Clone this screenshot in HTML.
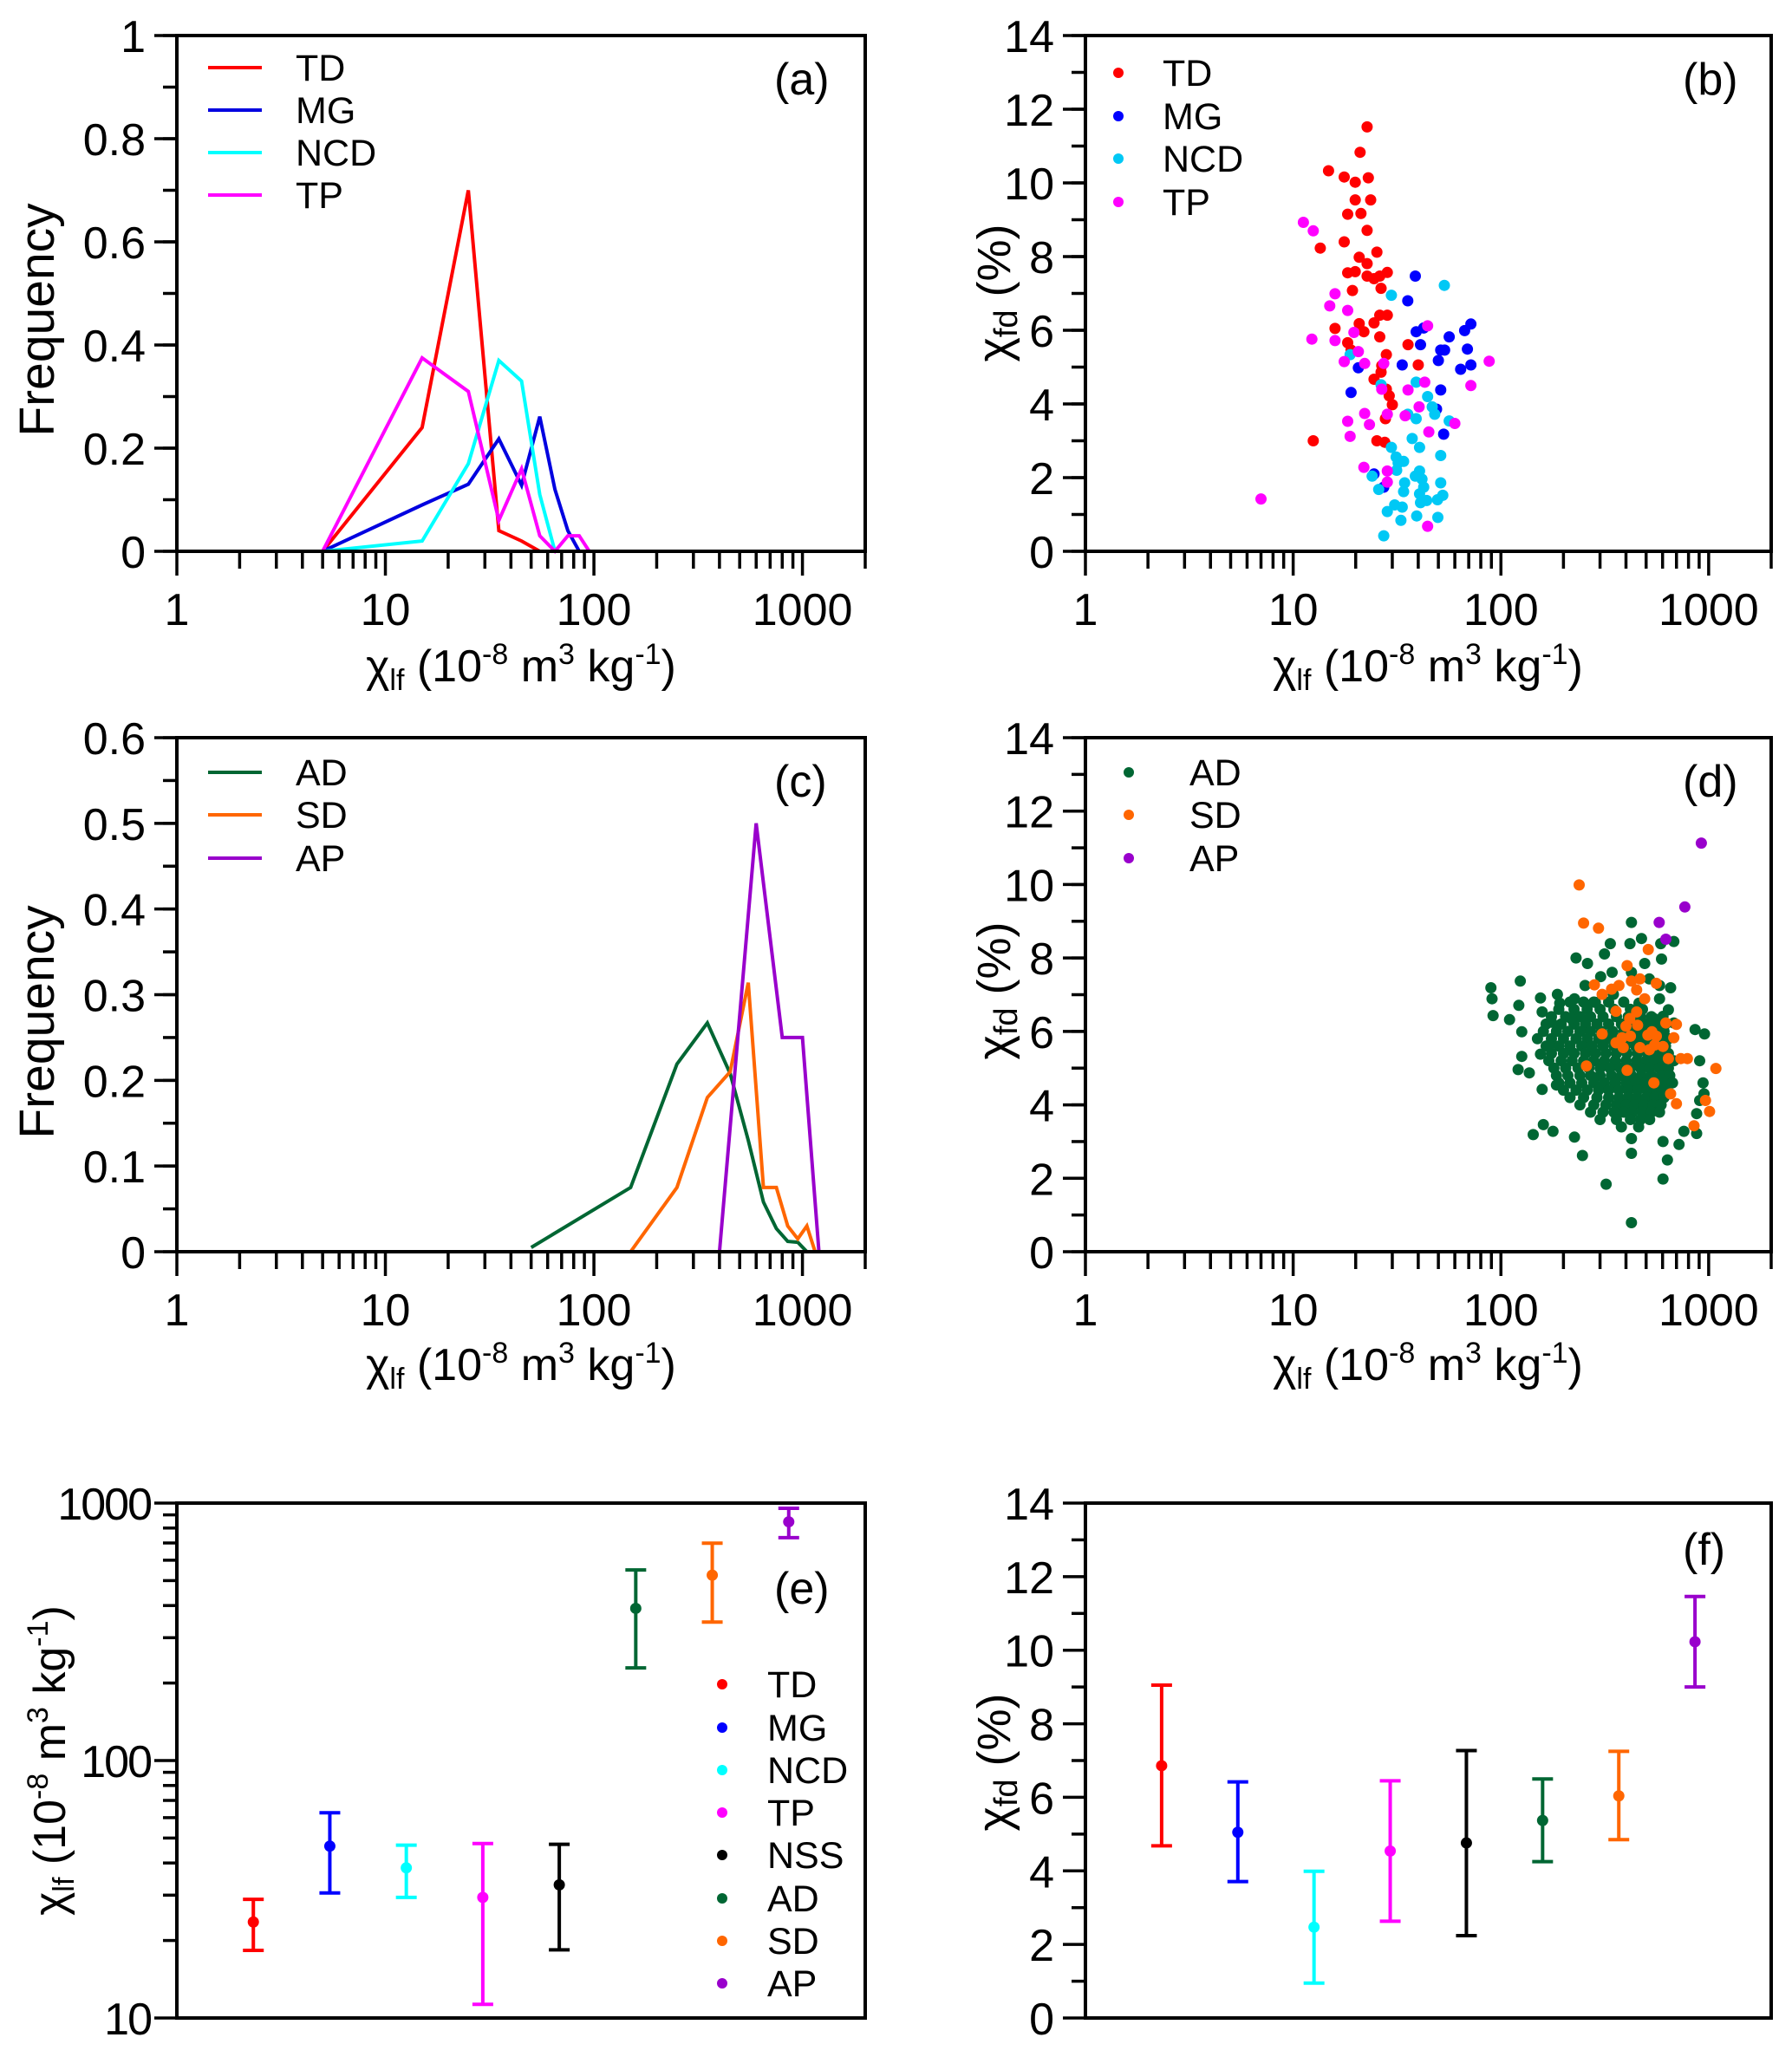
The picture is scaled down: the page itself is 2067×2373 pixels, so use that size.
<!DOCTYPE html>
<html><head><meta charset="utf-8">
<style>
html,body{margin:0;padding:0;background:#fff;}
svg{display:block;font-family:"Liberation Sans",Arial,sans-serif;}
</style></head>
<body>
<svg id="fig" width="2067" height="2373" viewBox="0 0 2067 2373" xmlns="http://www.w3.org/2000/svg">
<rect width="2067" height="2373" fill="#fff"/>
<g id="static" fill="#000">
  <text x="601" y="786" text-anchor="middle" font-size="52">χ<tspan font-size="34" dy="10">lf</tspan><tspan dy="-10"> (10</tspan><tspan font-size="34" dy="-20">-8</tspan><tspan dy="20"> m</tspan><tspan font-size="34" dy="-20">3</tspan><tspan dy="20"> kg</tspan><tspan font-size="34" dy="-20">-1</tspan><tspan dy="20">)</tspan></text>
  <text x="1647" y="786" text-anchor="middle" font-size="52">χ<tspan font-size="34" dy="10">lf</tspan><tspan dy="-10"> (10</tspan><tspan font-size="34" dy="-20">-8</tspan><tspan dy="20"> m</tspan><tspan font-size="34" dy="-20">3</tspan><tspan dy="20"> kg</tspan><tspan font-size="34" dy="-20">-1</tspan><tspan dy="20">)</tspan></text>
  <text x="601" y="1592" text-anchor="middle" font-size="52">χ<tspan font-size="34" dy="10">lf</tspan><tspan dy="-10"> (10</tspan><tspan font-size="34" dy="-20">-8</tspan><tspan dy="20"> m</tspan><tspan font-size="34" dy="-20">3</tspan><tspan dy="20"> kg</tspan><tspan font-size="34" dy="-20">-1</tspan><tspan dy="20">)</tspan></text>
  <text x="1647" y="1592" text-anchor="middle" font-size="52">χ<tspan font-size="34" dy="10">lf</tspan><tspan dy="-10"> (10</tspan><tspan font-size="34" dy="-20">-8</tspan><tspan dy="20"> m</tspan><tspan font-size="34" dy="-20">3</tspan><tspan dy="20"> kg</tspan><tspan font-size="34" dy="-20">-1</tspan><tspan dy="20">)</tspan></text>
  <text transform="translate(62,369) rotate(-90)" text-anchor="middle" font-size="57">Frequency</text>
  <text transform="translate(62,1179) rotate(-90)" text-anchor="middle" font-size="57">Frequency</text>
  <text transform="translate(1165,338) rotate(-90)" text-anchor="middle" font-size="54">χ<tspan font-size="38" dy="8">fd</tspan><tspan dy="-8"> (%)</tspan></text>
  <text transform="translate(1165,1143) rotate(-90)" text-anchor="middle" font-size="54">χ<tspan font-size="38" dy="8">fd</tspan><tspan dy="-8"> (%)</tspan></text>
  <text transform="translate(1165,2033) rotate(-90)" text-anchor="middle" font-size="54">χ<tspan font-size="38" dy="8">fd</tspan><tspan dy="-8"> (%)</tspan></text>
  <text transform="translate(75,2031) rotate(-90)" text-anchor="middle" font-size="52">χ<tspan font-size="34" dy="10">lf</tspan><tspan dy="-10"> (10</tspan><tspan font-size="34" dy="-20">-8</tspan><tspan dy="20"> m</tspan><tspan font-size="34" dy="-20">3</tspan><tspan dy="20"> kg</tspan><tspan font-size="34" dy="-20">-1</tspan><tspan dy="20">)</tspan></text>
  <text x="893" y="109" font-size="52">(a)</text>
  <text x="1941" y="109" font-size="52">(b)</text>
  <text x="893" y="919" font-size="52">(c)</text>
  <text x="1941" y="919" font-size="52">(d)</text>
  <text x="893" y="1850" font-size="52">(e)</text>
  <text x="1941" y="1805" font-size="52">(f)</text>
</g>
</svg>
<script>
const groupNames = ['TD','MG','NCD','TP'];
const groupNames2 = ['AD','SD','AP'];
const summaryNames = ['TD','MG','NCD','TP','NSS','AD','SD','AP'];

const tdHistX = [5,15,25,35,45,55];
const tdHistY = [0,0.24,0.70,0.04,0.02,0];
const mgHistX = [5,15,25,35,45,55,65,75,85];
const mgHistY = [0,0.09,0.13,0.218,0.128,0.261,0.12,0.04,0];
const ncdHistX = [5,15,25,35,45,55,65];
const ncdHistY = [0,0.02,0.17,0.37,0.33,0.11,0];
const tpHistX = [5,15,25,35,45,55,65,75,85,95];
const tpHistY = [0,0.375,0.31,0.06,0.16,0.03,0,0.03,0.03,0];

const adHistX = [50,150,250,350,450,550,650,750,850,950,1050];
const adHistY = [0.005,0.075,0.219,0.267,0.208,0.13,0.058,0.027,0.012,0.011,0];
const sdHistX = [150,250,350,450,550,650,750,850,950,1050,1150];
const sdHistY = [0,0.075,0.18,0.21,0.314,0.075,0.075,0.03,0.015,0.03,0];
const apHistX = [400,600,800,1000,1200];
const apHistY = [0,0.5,0.25,0.25,0];

const scatterTD = [[22.7,11.52],[21,10.83],[14.8,10.33],[17.6,10.16],[23,10.14],[19.9,10.02],[19.9,9.54],[23.6,9.54],[18.3,9.15],[21.2,9.17],[22.7,8.71],[13.5,8.23],[17.6,8.4],[25.3,8.12],[20.8,7.98],[22.7,7.81],[18.3,7.56],[19.9,7.59],[22.7,7.47],[24.5,7.4],[26.1,7.47],[28.4,7.57],[26.5,7.14],[19.3,7.08],[28.4,6.41],[26.1,6.41],[24.5,6.2],[20.8,6.18],[21.9,5.96],[15.9,6.05],[26.1,5.82],[18.3,5.66],[19,5.46],[35.7,5.61],[40,5.06],[28.1,5.34],[26.7,5.04],[26.5,4.86],[24.5,4.67],[28.1,4.4],[29,4.22],[30,3.98],[27.8,3.6],[12.5,3.0],[25.3,3.0],[27.6,2.96]];
const scatterMG = [[38.7,7.47],[35.6,6.8],[39.1,5.96],[42.5,6.06],[41,5.61],[56.4,5.82],[66.9,5.99],[71.7,6.17],[51.3,5.46],[53.6,5.46],[69,5.49],[50,5.18],[33.5,5.06],[20.6,4.98],[64,4.94],[71.7,5.06],[51.3,4.38],[19,4.31],[49,3.86],[53,3.18],[24.5,2.1],[27.3,1.74]];
const scatterNCD = [[53.4,7.22],[29.7,6.95],[39.1,4.59],[26.5,4.52],[44.4,4.2],[46.7,3.92],[48,3.72],[56.4,3.54],[35.6,3.72],[39.1,3.6],[37.4,3.06],[40.6,2.82],[51.3,2.6],[29.7,2.82],[31.3,2.56],[32,2.4],[34,2.44],[31.5,2.2],[40.6,2.18],[38.7,2.04],[41.7,1.96],[42.5,1.74],[51.3,1.86],[34.4,1.86],[34,1.62],[40.6,1.56],[43.9,1.38],[41,1.32],[49.5,1.4],[52.5,1.52],[30.8,1.26],[33.5,1.2],[28.4,1.08],[39.3,0.96],[49.7,0.92],[33,0.84],[27.3,0.42],[18.8,5.34],[25.8,1.68],[24,2.04]];
const scatterTP = [[7,1.42],[11.2,8.93],[12.5,8.7],[15.9,6.99],[15,6.66],[18.3,6.54],[12.3,5.76],[15.9,5.72],[19.6,5.94],[20.6,5.42],[17.6,5.15],[22.1,5.1],[27.3,5.1],[26.7,4.4],[35.7,4.38],[44.4,6.12],[43,4.59],[87.8,5.16],[71.7,4.5],[40.4,3.92],[22.1,3.74],[28.4,3.72],[34.6,3.68],[18.3,3.53],[23.3,3.44],[60,3.47],[45,3.24],[18.8,3.12],[21.9,2.28],[28.4,2.18],[28.4,1.88],[44.4,0.68]];

const scatterADOuter = [[89.5,7.19],[90.6,6.89],[91.7,6.43],[110,6.32],[124,7.37],[122,6.71],[126,5.99],[126,5.32],[121,4.96],[137,4.87],[143,3.19],[160,3.46],[178,3.28],[155,6.91],[158,6.53],[170,5.62],[155,5.38],[158,4.42],[185,4.54],[226,3.12],[247,2.62],[321,1.84],[425,0.79],[425,2.68],[425,3.08],[603,1.98],[633,2.5],[720,2.92],[603,3.0],[760,3.28],[875,3.22],[875,3.76],[905,4.12],[950,4.3],[940,4.6],[905,5.2],[955,5.93],[860,6.05],[680,6.23],[640,6.59],[656,7.19],[593,7.97],[680,8.45],[588,8.39],[425,8.97],[475,8.53],[418,8.39],[336,8.39],[315,8.11],[492,7.85],[230,8.0],[261,7.85],[302,7.49],[343,7.61],[425,7.61],[348,7.01],[285,6.79],[226,6.89],[187,7.01],[192,6.77],[218,6.35],[254,7.25],[518,7.43],[580,7.25],[580,6.89],[462,6.77],[545,6.35],[603,6.41],[175,6.25]];
const adCoreY = [6.8,6.6,6.4,6.2,6.0,5.8,5.6,5.4,5.2,5.0,4.8,4.6,4.4,4.2,4.0,3.8,3.6,3.4];
const adCoreX = [
 [215,250,280,330,390],
 [190,225,260,300,350,420,480],
 [175,205,240,270,310,360,410,470,530],
 [165,195,225,255,290,330,380,440,500,560,620],
 [160,185,210,240,270,305,345,390,440,490,550,610],
 [150,175,200,230,260,295,330,370,420,470,520,580,640],
 [165,190,215,245,275,310,350,395,445,500,560,620],
 [175,200,225,255,285,320,360,405,455,510,570,640],
 [170,195,220,250,280,315,355,400,450,500,555,615,680],
 [180,205,235,265,300,335,375,420,470,520,580,640],
 [185,210,240,270,300,340,380,425,475,530,590,650],
 [190,215,245,280,315,355,400,445,495,550,610,670],
 [200,230,260,295,330,370,410,455,505,560,620],
 [215,250,290,330,370,410,450,500,550,610],
 [240,280,320,360,400,440,490,540,590],
 [270,310,350,390,430,480,530,580],
 [300,360,420,470,520],
 [380,460]
];
const scatterSD = [[238,9.99],[250,8.95],[295,8.81],[512,8.23],[405,7.79],[282,7.27],[307,7.01],[341,7.15],[370,7.25],[425,7.37],[467,7.43],[560,7.31],[450,7.13],[492,6.89],[358,6.55],[450,6.53],[417,6.35],[400,6.14],[455,6.17],[307,5.93],[383,5.83],[420,5.87],[510,5.9],[533,5.99],[560,5.87],[358,5.69],[388,5.56],[467,5.56],[518,5.5],[550,5.63],[603,5.59],[640,5.26],[735,5.26],[790,5.26],[680,5.83],[622,6.23],[700,6.19],[258,5.06],[405,4.94],[545,4.6],[656,4.3],[700,4.03],[965,4.12],[1010,3.82],[1083,4.99],[850,3.43]];
const scatterAP = [[922,11.13],[768,9.39],[578,8.97],[622,8.51]];

const lfMean = [23.6,46.5,38.3,29.4,32.9,390,525,846];
const lfHigh = [28.9,62.7,46.9,47.6,47.3,550,699,955];
const lfLow  = [18.3,30.6,29.4,11.3,18.4,229,345,734];
const fdMean = [6.86,5.05,2.47,4.54,4.76,5.37,6.04,10.23];
const fdHigh = [9.05,6.42,3.99,6.45,7.27,6.5,7.25,11.46];
const fdLow  = [4.68,3.71,0.95,2.63,2.24,4.25,4.85,9.0];

const logXTicks = [1,10,100,1000];
const freqATicks = [0,0.2,0.4,0.6,0.8,1];
const freqCTicks = [0,0.1,0.2,0.3,0.4,0.5,0.6];
const fdTicks = [0,2,4,6,8,10,12,14];
const lfYTicks = [10,100,1000];

const NS = 'http://www.w3.org/2000/svg';
const svg = document.getElementById('fig');
function mk(tag, attrs, parent){
  const el = document.createElementNS(NS, tag);
  for (const k in attrs) el.setAttribute(k, attrs[k]);
  (parent||svg).appendChild(el);
  return el;
}
const P = {
  a:{x0:204,x1:998,y0:41,y1:636},
  b:{x0:1252,x1:2043,y0:41,y1:636},
  c:{x0:204,x1:998,y0:851,y1:1444},
  d:{x0:1252,x1:2043,y0:851,y1:1444},
  e:{x0:204,x1:998,y0:1734,y1:2328},
  f:{x0:1252,x1:2043,y0:1734,y1:2328}
};
const LOGMAX = Math.log10(2000);
function xLog(p,v){ return p.x0 + Math.log10(v)/LOGMAX*(p.x1-p.x0); }
function yLin(p,v,max){ return p.y1 - v/max*(p.y1-p.y0); }
function yLog(p,v){ return p.y1 - (Math.log10(v)-1)/2*(p.y1-p.y0); }
function xCat(p,i){ return p.x0 + (i+1)*(p.x1-p.x0)/9; }

function frame(p, key){
  const r = mk('rect',{x:p.x0,y:p.y0,width:p.x1-p.x0,height:p.y1-p.y0,fill:'none',stroke:'#000','stroke-width':4});
  
  
}
function logXAxis(p, key){
  const g = mk('g',{});
  
  
  for (let e=0; e<4; e++){
    for (let m=1; m<=9; m++){
      const v = m*Math.pow(10,e);
      if (v>2000) break;
      const x = xLog(p,v);
      mk('line',{x1:x,x2:x,y1:p.y1,y2:p.y1+(m===1?28:20),stroke:'#000','stroke-width':3.5},g);
    }
  }
  logXTicks.forEach(v=>{
    const t = mk('text',{x:xLog(p,v),y:p.y1+85,'text-anchor':'middle','font-size':52},g);
    t.textContent = String(v);
    
    
  });
}
function linYAxis(p, key, ticks, max, minorStep){
  const g = mk('g',{});
  
  
  for (let v=0; v<=max+1e-9; v+=minorStep){
    const y = yLin(p,v,max);
    mk('line',{x1:p.x0-16,x2:p.x0,y1:y,y2:y,stroke:'#000','stroke-width':3.5},g);
  }
  ticks.forEach(v=>{
    const y = yLin(p,v,max);
    mk('line',{x1:p.x0-26,x2:p.x0,y1:y,y2:y,stroke:'#000','stroke-width':3.5},g);
    const t = mk('text',{x:p.x0-36,y:y+19,'text-anchor':'end','font-size':52},g);
    t.textContent = String(v);
    
    
  });
}
function logYAxis(p, key){
  const g = mk('g',{});
  
  
  for (let e=1; e<3; e++){
    for (let m=2; m<=9; m++){
      const y = yLog(p, m*Math.pow(10,e));
      mk('line',{x1:p.x0-16,x2:p.x0,y1:y,y2:y,stroke:'#000','stroke-width':3.5},g);
    }
  }
  lfYTicks.forEach(v=>{
    const y = yLog(p,v);
    mk('line',{x1:p.x0-26,x2:p.x0,y1:y,y2:y,stroke:'#000','stroke-width':3.5},g);
    const t = mk('text',{x:p.x0-30,y:y+19,'text-anchor':'end','font-size':52,'letter-spacing':-2},g);
    t.textContent = String(v);
    
    
  });
}
function catYAxis(p,key){
  const g = mk('g',{});
  
  
  for (let v=0; v<=14; v++){
    const y = yLin(p,v,14);
    mk('line',{x1:p.x0-(v%2===0?26:16),x2:p.x0,y1:y,y2:y,stroke:'#000','stroke-width':3.5},g);
  }
  fdTicks.forEach(v=>{
    const y = yLin(p,v,14);
    const t = mk('text',{x:p.x0-36,y:y+19,'text-anchor':'end','font-size':52},g);
    t.textContent = String(v);
    
    
  });
}
function histLine(p, xs, ys, max, color, name){
  const pts = xs.map((v,i)=> xLog(p,v).toFixed(1)+','+yLin(p,ys[i],max).toFixed(1)).join(' ');
  const l = mk('polyline',{points:pts,fill:'none',stroke:color,'stroke-width':4,'stroke-linejoin':'miter'});
  
  
}
function scatter(p, pts, color, name){
  const g = mk('g',{fill:color});
  
  
  pts.forEach(d=>{
    mk('circle',{cx:xLog(p,d[0]).toFixed(1),cy:yLin(p,d[1],14).toFixed(1),r:6.5},g);
  });
  return g;
}
function legendLine(x, y, color, label, name){
  const g = mk('g',{});
  
  
  mk('line',{x1:x,x2:x+62,y1:y,y2:y,stroke:color,'stroke-width':4},g);
  const t = mk('text',{x:x+101,y:y+15,'font-size':43},g);
  t.textContent = label;
}
function legendDot(x, tx, y, color, label, name){
  const g = mk('g',{});
  
  
  mk('circle',{cx:x,cy:y,r:6,fill:color},g);
  const t = mk('text',{x:tx,y:y+15,'font-size':43},g);
  t.textContent = label;
}

const colA = {TD:'#ff0000',MG:'#0000e0',NCD:'#00ffff',TP:'#ff00ff'};
const colB = {TD:'#ff0000',MG:'#0000ff',NCD:'#00c8f5',TP:'#ff00ff'};
const colC = {AD:'#006633',SD:'#ff6600',AP:'#9900cc'};
const colS = ['#ff0000','#0000ff','#00ffff','#ff00ff','#000000','#006633','#ff6600','#9900cc'];

(function(){
  const p = P.a;
  logXAxis(p,'a'); linYAxis(p,'a',freqATicks,1,0.1);
  histLine(p, tdHistX, tdHistY, 1, colA.TD, 'td-frequency-line');
  histLine(p, mgHistX, mgHistY, 1, colA.MG, 'mg-frequency-line');
  histLine(p, ncdHistX, ncdHistY, 1, colA.NCD, 'ncd-frequency-line');
  histLine(p, tpHistX, tpHistY, 1, colA.TP, 'tp-frequency-line');
  frame(p,'a');
  const rows=[78,127,176,225];
  groupNames.forEach((n,i)=> legendLine(240, rows[i], colA[n], n, 'legend-entry-a-'+n.toLowerCase()));
})();
(function(){
  const p = P.b;
  logXAxis(p,'b'); linYAxis(p,'b',fdTicks,14,1);
  scatter(p, scatterTD, colB.TD, 'td-points');
  scatter(p, scatterMG, colB.MG, 'mg-points');
  scatter(p, scatterNCD, colB.NCD, 'ncd-points');
  scatter(p, scatterTP, colB.TP, 'tp-points');
  frame(p,'b');
  const rows=[84,134,183,233];
  groupNames.forEach((n,i)=> legendDot(1290, 1341, rows[i], colB[n], n, 'legend-entry-b-'+n.toLowerCase()));
})();
(function(){
  const p = P.c;
  logXAxis(p,'c'); linYAxis(p,'c',freqCTicks,0.6,0.05);
  histLine(p, adHistX, adHistY, 0.6, colC.AD, 'ad-frequency-line');
  histLine(p, sdHistX, sdHistY, 0.6, colC.SD, 'sd-frequency-line');
  histLine(p, apHistX, apHistY, 0.6, colC.AP, 'ap-frequency-line');
  frame(p,'c');
  const rows=[891,940,990];
  groupNames2.forEach((n,i)=> legendLine(240, rows[i], colC[n], n, 'legend-entry-c-'+n.toLowerCase()));
})();
(function(){
  const p = P.d;
  logXAxis(p,'d'); linYAxis(p,'d',fdTicks,14,1);
  const core = [];
  adCoreY.forEach((y,i)=> adCoreX[i].forEach(x=> core.push([x,y])));
  scatter(p, core, colC.AD, 'ad-points-core');
  scatter(p, scatterADOuter, colC.AD, 'ad-points');
  scatter(p, scatterSD, colC.SD, 'sd-points');
  scatter(p, scatterAP, colC.AP, 'ap-points');
  frame(p,'d');
  const rows=[891,940,990];
  groupNames2.forEach((n,i)=> legendDot(1302, 1372, rows[i], colC[n], n, 'legend-entry-d-'+n.toLowerCase()));
})();
(function(){
  const p = P.e;
  logYAxis(p,'e');
  summaryNames.forEach((n,i)=>{
    const g = mk('g',{stroke:colS[i],'stroke-width':4,fill:colS[i]});
    
    
    const x = xCat(p,i), yh=yLog(p,lfHigh[i]), yl=yLog(p,lfLow[i]), ym=yLog(p,lfMean[i]);
    mk('line',{x1:x,x2:x,y1:yh,y2:yl},g);
    mk('line',{x1:x-12,x2:x+12,y1:yh,y2:yh},g);
    mk('line',{x1:x-12,x2:x+12,y1:yl,y2:yl},g);
    mk('circle',{cx:x,cy:ym,r:6.5,stroke:'none'},g);
  });
  frame(p,'e');
  const rows=[1943,1993,2042,2091,2140,2190,2239,2288];
  summaryNames.forEach((n,i)=> legendDot(833, 885, rows[i], colS[i], n, 'legend-entry-e-'+n.toLowerCase()));
})();
(function(){
  const p = P.f;
  catYAxis(p,'f');
  summaryNames.forEach((n,i)=>{
    const g = mk('g',{stroke:colS[i],'stroke-width':4,fill:colS[i]});
    
    
    const x = xCat(p,i), yh=yLin(p,fdHigh[i],14), yl=yLin(p,fdLow[i],14), ym=yLin(p,fdMean[i],14);
    mk('line',{x1:x,x2:x,y1:yh,y2:yl},g);
    mk('line',{x1:x-12,x2:x+12,y1:yh,y2:yh},g);
    mk('line',{x1:x-12,x2:x+12,y1:yl,y2:yl},g);
    mk('circle',{cx:x,cy:ym,r:6.5,stroke:'none'},g);
  });
  frame(p,'f');
})();
svg.appendChild(document.getElementById('static'));
</script>
</body></html>
